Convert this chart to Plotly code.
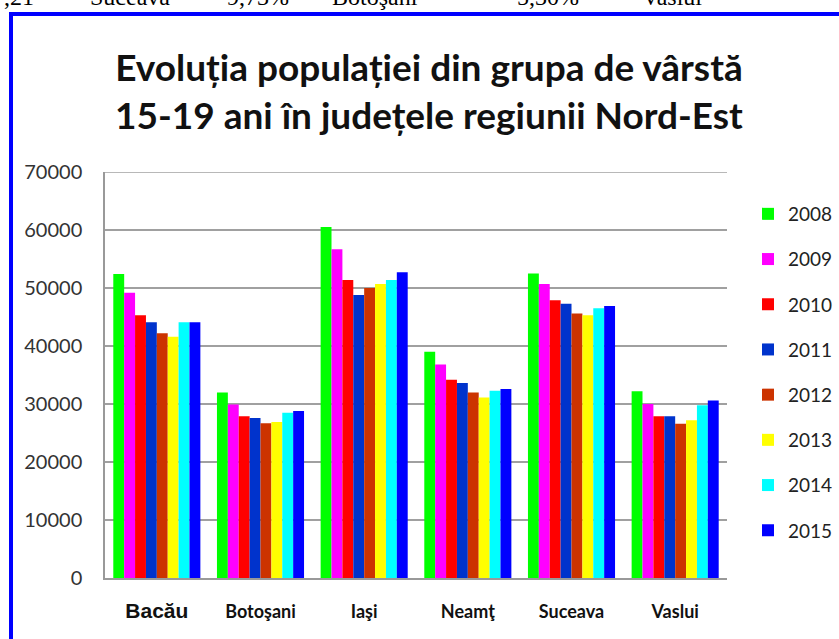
import plotly.graph_objects as go

counties = ["Bacău", "Botoşani", "Iaşi", "Neamţ", "Suceava", "Vaslui"]
years = ["2008", "2009", "2010", "2011", "2012", "2013", "2014", "2015"]
colors = ["#00FF00", "#FF00FF", "#FF0000", "#0033CC", "#CC3300", "#FFFF00", "#00FFFF", "#0000FF"]

# values per year, ordered as counties
v2008 = [52400, 32000, 60500, 39000, 52500, 32200]
v2009 = [49200, 29900, 56700, 36800, 50700, 30000]
v2010 = [45300, 27900, 51400, 34200, 47900, 27900]
v2011 = [44100, 27600, 48800, 33600, 47300, 27900]
v2012 = [42200, 26700, 50000, 32000, 45600, 26600]
v2013 = [41600, 26900, 50700, 31100, 45300, 27200]
v2014 = [44100, 28500, 51400, 32300, 46500, 29800]
v2015 = [44100, 28800, 52700, 32600, 46900, 30600]
series = [v2008, v2009, v2010, v2011, v2012, v2013, v2014, v2015]

y_ticks = [0, 10000, 20000, 30000, 40000, 50000, 60000, 70000]

top_words = [",21", "Suceava", "9,73%", "Botoşani", "5,30%", "Vaslui"]
top_px = [2, 88, 225, 330, 515, 640]

W, H = 839, 639
L, R, T, B = 105, 727, 172, 578
PR = 839  # paper right edge so the legend sits inside

def px_x(p):
    return (p - L) / (PR - L)

def px_y(p):
    return (B - p) / (B - T)

fig = go.Figure()
for yr, col, vals in zip(years, colors, series):
    fig.add_trace(go.Bar(x=counties, y=vals, name=yr, marker=dict(color=col, line=dict(width=0)),
                         legendgroup=yr))

ticktext = ['<b><span style="font-family:Liberation Sans;font-size:21px">Bacău</span></b>'] + \
           ["<b>" + c + "</b>" for c in counties[1:]]

annotations = [
    dict(text="<b>Evoluția populației din grupa de vârstă<br>15-19 ani în județele regiunii Nord-Est</b>",
         x=px_x(429), y=px_y(91), xref="paper", yref="paper", showarrow=False,
         xanchor="center", yanchor="middle",
         font=dict(family="Lato", size=37, color="#111111"))
]
for w, p in zip(top_words, top_px):
    annotations.append(dict(text=w, x=px_x(p), y=px_y(12), xref="paper", yref="paper",
                            showarrow=False, xanchor="left", yanchor="bottom",
                            font=dict(family="Liberation Serif", size=24, color="#000000")))

fig.update_layout(
    width=W, height=H,
    margin=dict(l=L, r=W - PR, t=T, b=H - B, pad=0),
    paper_bgcolor="white", plot_bgcolor="white",
    barmode="group", bargap=0.16, bargroupgap=0,
    showlegend=True,
    legend=dict(x=px_x(748), y=px_y(195), xanchor="left", yanchor="top",
                font=dict(family="Lato", size=19, color="#222222"),
                tracegroupgap=17.5, bgcolor="rgba(0,0,0,0)", itemwidth=30,
                entrywidth=30, entrywidthmode="pixels"),
    annotations=annotations,
    shapes=[dict(type="rect", xref="paper", yref="paper",
                 x0=px_x(11), x1=px_x(900), y0=px_y(700), y1=px_y(14),
                 line=dict(color="#0000FF", width=4)),
            dict(type="line", xref="x domain", yref="y", x0=0, x1=1, y0=70000, y1=70000,
                 line=dict(color="#a0a0a0", width=1.5))],
)

fig.update_xaxes(domain=[0, (R - L) / (PR - L)],
                 showline=True, linecolor="#999999", linewidth=1.5, ticks="",
                 tickvals=counties, ticktext=ticktext, ticklabelstandoff=17,
                 tickfont=dict(family="Lato", size=18, color="#111111"))
fig.update_yaxes(range=[0, 70000], tickvals=y_ticks, ticktext=[str(t) for t in y_ticks],
                 showgrid=True, gridcolor="#a0a0a0", gridwidth=1.5,
                 showline=True, linecolor="#999999", linewidth=1.5, ticks="",
                 zeroline=False, ticklabelstandoff=17,
                 tickfont=dict(family="Lato", size=20, color="#333333"))

fig.write_html("out.html", config={"displayModeBar": False},
               post_script="document.body.style.margin='0';")
